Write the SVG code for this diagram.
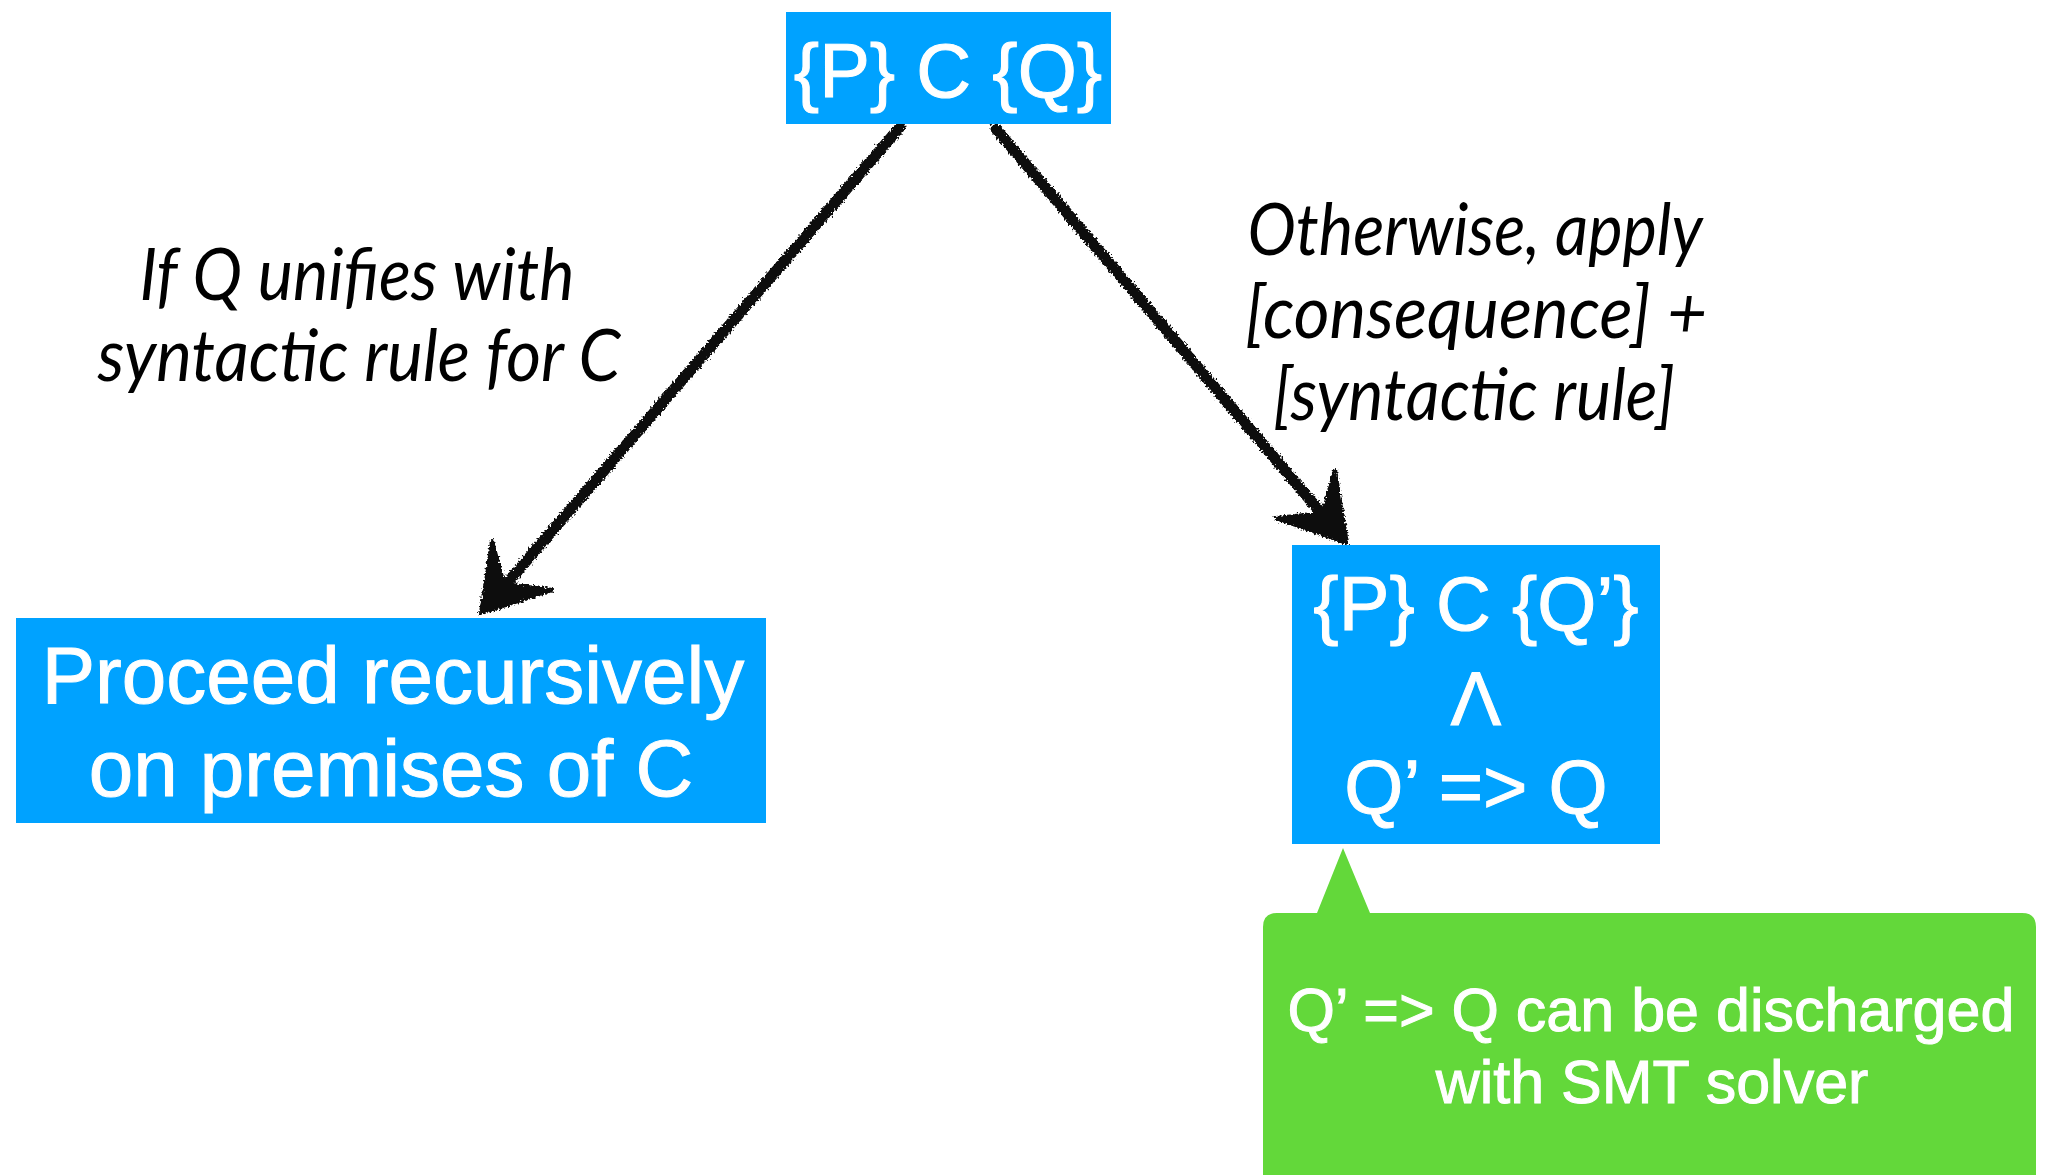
<svg xmlns="http://www.w3.org/2000/svg" width="2046" height="1175" viewBox="0 0 2046 1175">
  <defs>
    <filter id="rough" x="-10%" y="-10%" width="120%" height="120%">
      <feTurbulence type="fractalNoise" baseFrequency="0.5" numOctaves="2" seed="3" result="n"/>
      <feDisplacementMap in="SourceGraphic" in2="n" scale="7" xChannelSelector="R" yChannelSelector="G"/>
    </filter>
  </defs>
  <style>
    .box { fill: #00A2FF; }
    .callout { fill: #63D83A; }
    .nt { font-family: "Liberation Sans", Arial, sans-serif; fill: #ffffff; stroke: #ffffff; stroke-width: 1; text-anchor: middle; }
    .lbl { font-family: Lato, "Open Sans", sans-serif; font-style: italic; fill: #000000; text-anchor: middle; font-size: 71px; }
    .shaft { fill: none; stroke: #111111; stroke-width: 11; stroke-linecap: round; }
    .head { fill: #111111; stroke: #111111; stroke-width: 4; stroke-linejoin: round; }
  </style>
  <rect width="2046" height="1175" fill="#ffffff"/>

  <g id="connectors" filter="url(#rough)">
    <path class="shaft" d="M900,127 L497,595"/>
    <polygon class="head" points="481,613 492,541 504,584 552,590"/>
    <path class="shaft" d="M996,129 L1333,527"/>
    <polygon class="head" points="1347,543 1335,470 1323,513 1276,518"/>
  </g>

  <g id="label-left">
    <text class="lbl" x="357" y="300" textLength="435" lengthAdjust="spacingAndGlyphs">If Q unifies with</text>
    <text class="lbl" x="359" y="381" textLength="523" lengthAdjust="spacingAndGlyphs">syntactic rule for C</text>
  </g>

  <g id="label-right">
    <text class="lbl" x="1475" y="255" textLength="455" lengthAdjust="spacingAndGlyphs">Otherwise, apply</text>
    <text class="lbl" x="1476" y="338" textLength="462" lengthAdjust="spacingAndGlyphs">[consequence] +</text>
    <text class="lbl" x="1474" y="420" textLength="402" lengthAdjust="spacingAndGlyphs">[syntactic rule]</text>
  </g>

  <g id="node-top">
    <rect class="box" x="786" y="12" width="325" height="112"/>
    <text class="nt" x="948" y="97" font-size="76">{P} C {Q}</text>
  </g>

  <g id="node-left">
    <rect class="box" x="16" y="618" width="750" height="205"/>
    <text class="nt" x="393" y="703" font-size="80">Proceed recursively</text>
    <text class="nt" x="391" y="796" font-size="80">on premises of C</text>
  </g>

  <g id="node-right">
    <rect class="box" x="1292" y="545" width="368" height="299"/>
    <text class="nt" x="1476" y="630" font-size="76">{P} C {Q’}</text>
    <text class="nt" x="1476" y="725" font-size="76">Λ</text>
    <text class="nt" x="1476" y="813" font-size="76">Q’ =&gt; Q</text>
  </g>

  <g id="node-callout">
    <path class="callout" d="M1343,848 L1370,913 L2022,913 Q2036,913 2036,927 L2036,1190 L1263,1190 L1263,927 Q1263,913 1277,913 L1317,913 Z"/>
    <text class="nt" x="1651" y="1031" font-size="61">Q’ =&gt; Q can be discharged</text>
    <text class="nt" x="1652" y="1103" font-size="61">with SMT solver</text>
  </g>
</svg>
